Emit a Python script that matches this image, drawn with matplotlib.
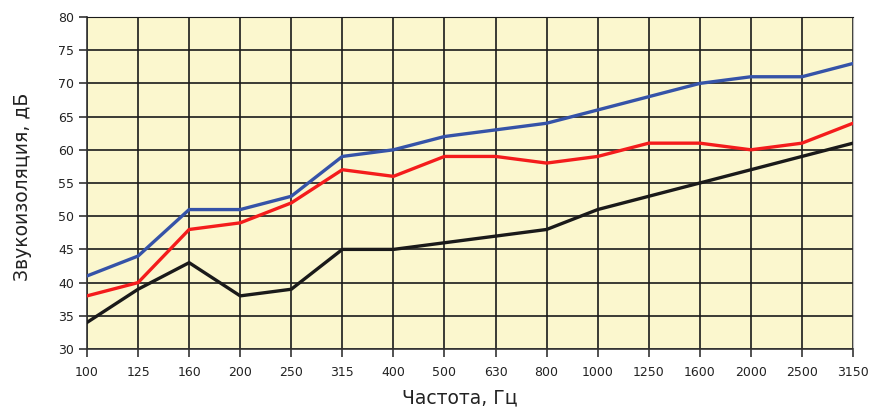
import matplotlib.pyplot as plt

# Frequency bands and sound insulation values (dB)
freqs = ['100', '125', '160', '200', '250', '315', '400', '500', '630', '800',
         '1000', '1250', '1600', '2000', '2500', '3150']
blue_vals = [41, 44, 51, 51, 53, 59, 60, 62, 63, 64, 66, 68, 70, 71, 71, 73]
red_vals = [38, 40, 48, 49, 52, 57, 56, 59, 59, 58, 59, 61, 61, 60, 61, 64]
black_vals = [34, 39, 43, 38, 39, 45, 45, 46, 47, 48, 51, 53, 55, 57, 59, 61]
y_ticks = list(range(30, 81, 5))

fig = plt.figure(figsize=(8.69, 4.12), dpi=100)
ax = fig.add_axes([87 / 869, 1 - 349 / 412, (853 - 87) / 869, (349 - 17) / 412])
ax.set_facecolor('#FBF7CE')

x = list(range(len(freqs)))
ax.plot(x, blue_vals, color='#3553A8', linewidth=2.4, zorder=3)
ax.plot(x, red_vals, color='#F41C1C', linewidth=2.4, zorder=3)
ax.plot(x, black_vals, color='#1A1A1A', linewidth=2.4, zorder=3)

ax.set_xlim(0, len(freqs) - 1)
ax.set_ylim(30, 80)
ax.set_xticks(x)
ax.set_xticklabels(freqs)
ax.set_yticks(y_ticks)
ax.grid(True, color='#1A1A1A', linewidth=1.2, zorder=1)
ax.set_axisbelow(True)

ax.tick_params(axis='both', direction='out', length=6, width=1.2,
               color='#333333', labelsize=9, labelcolor='#222222')
ax.tick_params(axis='x', pad=6)
for side in ['left', 'bottom']:
    ax.spines[side].set_color('#333333')
    ax.spines[side].set_linewidth(1.2)
ax.spines['right'].set_color('#BBBBBB')
ax.spines['top'].set_color('#1A1A1A')

ax.set_ylabel('Звукоизоляция, дБ', fontsize=13.5, color='#222222')
ax.yaxis.set_label_coords(-0.072, 0.49)
ax.set_xlabel('Частота, Гц', fontsize=13.5, color='#222222')
ax.xaxis.set_label_coords(0.487, -0.118)

plt.savefig('out.png', dpi=100)
